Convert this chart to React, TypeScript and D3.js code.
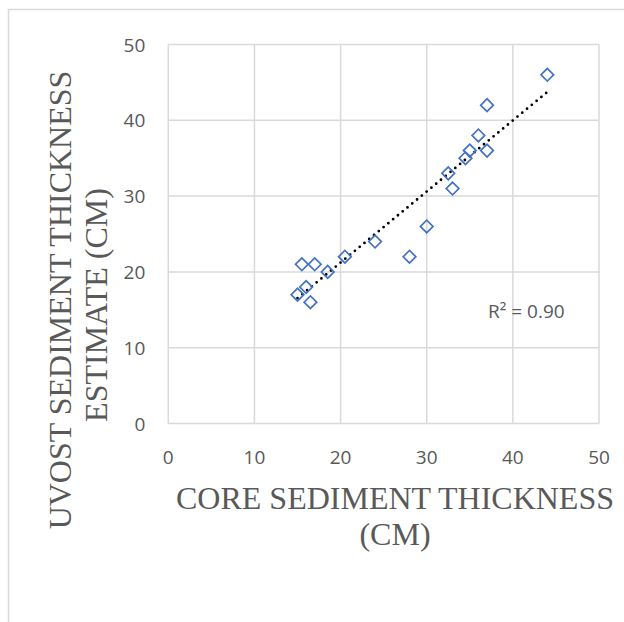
import React, { useEffect, useRef } from 'react'
import * as d3 from 'd3'

// core thickness (cm) vs UVOST estimate (cm)
const coreThickness = [44, 37, 36, 37, 35, 34.5, 32.5, 33, 30, 28, 24, 20.5, 15.5, 17, 18.5, 16, 15, 16.5]
const uvostEstimate = [46, 42, 38, 36, 36, 35, 33, 31, 26, 22, 24, 22, 21, 21, 20, 18, 17, 16]
const xTicks = [0, 10, 20, 30, 40, 50]
const yTicks = [0, 10, 20, 30, 40, 50]
const rSquaredLabel = 'R² = 0.90'

const W = 624
const H = 622
const margin = { left: 168.3, right: 25, top: 44.5, bottom: 198.5 }

export default function App() {
  const ref = useRef<SVGSVGElement | null>(null)

  useEffect(() => {
    const svg = d3.select(ref.current)
    svg.selectAll('*').remove()

    const x = d3.scaleLinear().domain([0, 50]).range([margin.left, W - margin.right])
    const y = d3.scaleLinear().domain([0, 50]).range([H - margin.bottom, margin.top])
    const grey = '#d9d9d9'
    const textGrey = '#595959'
    const sans = '"Open Sans", "Liberation Sans", sans-serif'

    // outer frame
    svg.append('rect')
      .attr('x', 8.5).attr('y', 9.5)
      .attr('width', W).attr('height', H)
      .attr('fill', 'none').attr('stroke', grey).attr('stroke-width', 1.5)

    // gridlines
    svg.append('g').selectAll('line').data(xTicks).join('line')
      .attr('x1', d => x(d)).attr('x2', d => x(d))
      .attr('y1', y(0)).attr('y2', y(50))
      .attr('stroke', grey).attr('stroke-width', 1.5)
    svg.append('g').selectAll('line').data(yTicks).join('line')
      .attr('x1', x(0)).attr('x2', x(50))
      .attr('y1', d => y(d)).attr('y2', d => y(d))
      .attr('stroke', grey).attr('stroke-width', 1.5)

    // tick labels
    svg.append('g').selectAll('text').data(xTicks).join('text')
      .attr('x', d => x(d)).attr('y', y(0) + 40)
      .attr('text-anchor', 'middle')
      .style('font-family', sans)
      .style('font-size', '19px').attr('fill', textGrey)
      .text(d => d)
    svg.append('g').selectAll('text').data(yTicks).join('text')
      .attr('x', x(0) - 23).attr('y', d => y(d) + 7)
      .attr('text-anchor', 'end')
      .style('font-family', sans)
      .style('font-size', '19px').attr('fill', textGrey)
      .text(d => d)

    // linear trendline
    const pts = coreThickness.map((c, i) => [c, uvostEstimate[i]] as [number, number])
    const mx = d3.mean(pts, d => d[0]) as number
    const my = d3.mean(pts, d => d[1]) as number
    const sxy = d3.sum(pts, d => (d[0] - mx) * (d[1] - my))
    const sxx = d3.sum(pts, d => (d[0] - mx) ** 2)
    const slope = sxy / sxx
    const icpt = my - slope * mx
    const [x0, x1] = d3.extent(coreThickness) as [number, number]
    svg.append('line')
      .attr('x1', x(x0)).attr('y1', y(icpt + slope * x0))
      .attr('x2', x(x1)).attr('y2', y(icpt + slope * x1))
      .attr('stroke', '#000').attr('stroke-width', 2.8)
      .attr('stroke-linecap', 'round').attr('stroke-dasharray', '0 6.2')

    // diamond markers
    const sym = d3.symbol().type(d3.symbolSquare).size(80)
    svg.append('g').selectAll('path').data(pts).join('path')
      .attr('d', sym)
      .attr('transform', d => `translate(${x(d[0])},${y(d[1])}) rotate(45)`)
      .attr('fill', 'none').attr('stroke', '#4472c4').attr('stroke-width', 1.7)

    svg.append('text')
      .attr('x', 488).attr('y', 318)
      .style('font-family', sans)
      .style('font-size', '19px').attr('fill', textGrey)
      .text(rSquaredLabel)

    // axis titles
    const title = (sel: any) => sel
      .style('font-family', '"Liberation Serif", serif')
      .style('font-size', '32px').attr('fill', textGrey)
      .attr('text-anchor', 'middle')
    title(svg.append('text')).attr('x', 395).attr('y', 509).text('CORE SEDIMENT THICKNESS')
    title(svg.append('text')).attr('x', 395).attr('y', 545).text('(CM)')
    title(svg.append('text')).attr('transform', 'translate(71,300) rotate(-90)').text('UVOST SEDIMENT THICKNESS')
    title(svg.append('text')).attr('transform', 'translate(107,305) rotate(-90)').text('ESTIMATE (CM)')
  }, [])

  return <svg ref={ref} width={W} height={H} style={{ position: 'absolute', left: 0, top: 0 }} />
}
